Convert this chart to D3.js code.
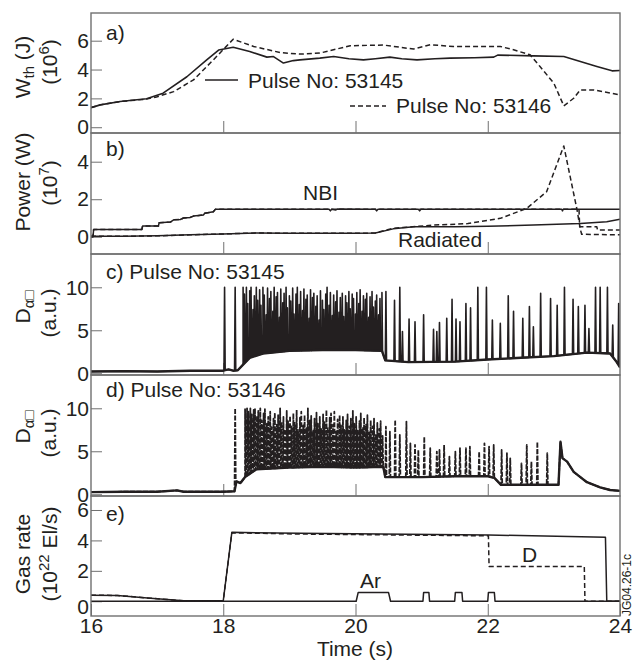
<!DOCTYPE html>
<html>
<head>
<meta charset="utf-8">
<script src="https://cdn.jsdelivr.net/npm/d3@7"></script>
<style>
  body { margin: 0; background: #fff; }
  text { font-family: "Liberation Sans", Arial, sans-serif; fill: #231f20; }
</style>
</head>
<body>
<div id="chart"></div>
<script>
// ---- data (time in s) ----
const xTicks = [16, 18, 20, 22, 24];
const wthTicks = [0, 2, 4, 6];
const powerTicks = [0, 2, 4];
const dalphaTicks = [0, 5, 10];
const gasTicks = [0, 2, 4, 6];

// a) stored energy, 10^6 J
const wth53145 = [[16.0,1.36],[16.14,1.55],[16.44,1.78],[16.84,1.97],[17.09,2.36],[17.45,3.5],[17.75,4.67],[17.93,5.35],
  [18.15,5.55],[18.4,5.25],[18.66,4.86],[18.76,4.9],[18.91,4.45],[19.06,4.62],[19.16,4.67],[19.46,4.79],[19.67,4.9],
  [19.9,4.75],[20.12,4.67],[20.3,4.75],[20.52,4.86],[20.7,4.75],[20.93,4.67],[21.2,4.75],[21.43,4.79],[21.8,4.82],
  [22.09,4.86],[22.15,5.0],[22.69,4.95],[23.15,4.9],[23.4,4.56],[23.65,4.21],[23.88,3.91],[24.0,3.93]];
const wth53146 = [[16.0,1.36],[16.14,1.55],[16.44,1.78],[16.84,1.95],[16.99,2.1],[17.25,2.47],[17.55,3.28],[17.85,4.67],
  [18.15,6.1],[18.46,5.6],[18.86,5.18],[19.16,5.07],[19.46,5.14],[19.92,5.65],[20.42,5.7],[20.88,5.42],[21.13,5.72],
  [21.48,5.6],[22.19,5.6],[22.39,5.37],[22.64,5.02],[22.79,4.21],[23.0,3.05],[23.15,1.48],[23.3,2.01],[23.4,2.59],
  [23.6,2.59],[24.0,2.24]];

// b) power, 10^7 W
const nbi53145 = [[16.0,0.0],[16.03,0.0],[16.04,0.39],[16.77,0.39],[16.78,0.57],[17.02,0.57],[17.03,0.75],[17.2,0.78],
  [17.25,0.9],[17.35,0.92],[17.4,1.0],[17.5,1.03],[17.55,1.1],[17.7,1.16],[17.72,1.25],[17.85,1.33],[17.88,1.46],
  [19.6,1.46],[19.62,1.38],[19.64,1.46],[19.7,1.42],[19.72,1.48],[20.3,1.46],[20.32,1.38],[20.34,1.46],[20.95,1.46],
  [20.97,1.38],[20.99,1.46],[23.12,1.46],[23.13,1.38],[23.14,1.46],[24.0,1.46]];
const nbi53146 = [[16.0,0.0],[16.03,0.0],[16.04,0.39],[16.77,0.39],[16.78,0.57],[17.02,0.57],[17.03,0.75],[17.2,0.78],
  [17.25,0.9],[17.35,0.92],[17.4,1.0],[17.5,1.03],[17.55,1.1],[17.7,1.16],[17.72,1.25],[17.85,1.33],[17.88,1.46],
  [23.38,1.46],[23.39,0.53],[23.65,0.53],[23.66,0.36],[24.0,0.36]];
const rad53145 = [[16.0,0.02],[16.5,0.02],[17.0,0.05],[17.5,0.1],[18.0,0.15],[18.5,0.2],[19.0,0.18],[20.0,0.18],
  [20.3,0.2],[20.57,0.42],[20.88,0.53],[21.5,0.53],[22.0,0.56],[22.69,0.62],[23.4,0.71],[23.8,0.8],[24.0,0.93]];
const rad53146 = [[16.0,0.02],[16.5,0.02],[17.0,0.05],[17.5,0.1],[18.0,0.15],[18.5,0.2],[19.0,0.18],[20.0,0.18],
  [20.3,0.2],[20.57,0.45],[21.18,0.62],[21.7,0.7],[22.19,0.98],[22.59,1.51],[22.89,2.4],[23.15,4.84],[23.35,1.44],
  [23.4,0.4],[23.42,0.13],[24.0,0.1]];

// c) D-alpha, pulse 53145 (trace level + ELM spikes)
const dalphaBase53145 = [[16.0,0.2],[16.5,0.25],[17.0,0.2],[17.5,0.3],[18.0,0.3],[18.08,0.45],[18.15,0.3],[18.22,0.35],
  [18.3,1.0],[18.4,1.8],[18.6,2.3],[19.0,2.6],[19.5,2.7],[20.0,2.7],[20.4,2.6],[20.45,1.5],[20.8,1.3],[21.5,1.35],
  [22.0,1.6],[22.5,1.8],[23.0,2.0],[23.5,2.4],[23.85,2.3],[23.95,1.3],[24.0,0.7]];
const dalphaSpikes53145 = [[18.02,10],[18.18,10],
  [18.30,10],[18.32,9.2],[18.35,10],[18.37,8.1],[18.40,9.6],[18.42,10],[18.45,7.4],[18.47,9.0],[18.50,10],[18.52,8.5],
  [18.55,9.7],[18.57,7.9],[18.60,10],[18.62,9.1],[18.65,6.8],[18.67,9.9],[18.70,8.7],[18.72,9.5],[18.75,7.2],[18.77,10],
  [18.80,8.9],[18.82,9.4],[18.85,6.5],[18.87,9.8],[18.90,8.2],[18.92,9.3],[18.95,10],[18.97,7.6],[19.00,9.0],[19.02,8.4],
  [19.05,9.9],[19.07,6.9],[19.10,9.2],[19.12,10],[19.15,8.0],[19.17,9.5],[19.20,7.3],[19.22,9.8],[19.25,8.6],[19.27,9.1],
  [19.30,6.4],[19.32,9.7],[19.35,8.8],[19.37,9.3],[19.40,7.8],[19.42,9.0],[19.45,6.2],[19.47,9.6],[19.50,8.5],[19.52,7.4],
  [19.55,9.2],[19.57,10],[19.60,7.9],[19.62,9.4],[19.65,6.7],[19.67,9.1],[19.70,8.3],[19.72,9.6],[19.75,7.1],[19.77,8.8],
  [19.80,9.3],[19.82,6.6],[19.85,9.0],[19.87,8.2],[19.90,9.5],[19.92,7.5],[19.95,9.2],[19.97,8.7],[20.00,6.9],[20.02,9.4],
  [20.05,8.1],[20.07,9.7],[20.10,7.2],[20.12,9.0],[20.15,8.6],[20.17,9.3],[20.20,6.5],[20.22,8.9],[20.25,9.5],[20.27,7.7],
  [20.30,8.4],[20.32,9.1],[20.35,6.8],[20.37,8.7],[20.40,9.4],
  [20.46,9.5],[20.59,8.5],[20.67,10],[20.71,4.85],[20.81,6.3],[20.90,6.0],[21.03,6.8],[21.18,5.1],[21.23,4.85],[21.27,5.9],
  [21.38,6.4],[21.46,8.6],[21.52,6.3],[21.58,6.0],[21.67,8.1],[21.74,7.6],[21.85,10],[21.98,10],[22.07,6.2],[22.19,5.8],
  [22.31,9.0],[22.39,7.2],[22.53,6.4],[22.63,7.75],[22.69,5.4],[22.80,9.3],[22.95,8.7],[23.05,7.9],[23.16,10],[23.29,8.6],
  [23.37,7.75],[23.47,7.9],[23.53,5.2],[23.63,10],[23.70,10],[23.81,10],[23.89,5.6],[23.98,8.1]];

// d) D-alpha, pulse 53146
const dalphaBase53146 = [[16.0,0.25],[16.5,0.3],[17.0,0.3],[17.3,0.45],[17.4,0.3],[18.0,0.3],[18.17,0.35],[18.2,1.5],
  [18.26,1.3],[18.33,2.0],[18.5,2.9],[19.0,3.1],[19.5,3.2],[20.0,3.1],[20.42,3.2],[20.45,2.0],[21.0,2.0],[21.5,2.1],
  [22.0,2.1],[22.1,1.9],[22.2,1.1],[23.07,1.1],[23.1,6.1],[23.13,4.2],[23.2,3.8],[23.3,2.6],[23.4,2.0],[23.5,1.4],
  [23.7,0.8],[23.85,0.5],[24.0,0.4]];
const dalphaSpikes53146 = [[18.18,10],
  [18.33,9.9],[18.36,10],[18.38,9.6],[18.41,10],[18.43,9.3],[18.46,9.8],[18.48,10],[18.51,9.1],[18.53,9.7],[18.56,10],
  [18.58,8.6],[18.61,9.4],[18.63,9.9],[18.66,8.2],[18.68,9.0],[18.71,9.6],[18.73,7.8],[18.76,8.8],[18.78,9.5],[18.81,8.1],
  [18.83,9.2],[18.86,10],[18.88,8.4],[18.91,9.0],[18.93,7.6],[18.96,9.7],[18.98,8.5],[19.01,9.1],[19.03,7.9],[19.06,9.4],
  [19.08,8.3],[19.11,9.8],[19.13,7.5],[19.16,8.9],[19.18,9.6],[19.21,8.0],[19.23,9.2],[19.26,7.7],[19.28,10],[19.31,8.6],
  [19.33,9.1],[19.36,7.4],[19.38,8.8],[19.41,9.5],[19.43,8.2],[19.46,9.0],[19.48,7.6],[19.51,9.3],[19.53,8.4],[19.56,9.8],
  [19.58,7.8],[19.61,8.9],[19.63,9.4],[19.66,8.1],[19.68,9.6],[19.71,7.3],[19.73,8.7],[19.76,9.2],[19.78,8.0],[19.81,9.0],
  [19.83,7.5],[19.86,8.6],[19.88,9.3],[19.91,7.9],[19.93,8.8],[19.96,9.7],[19.98,8.2],[20.01,9.0],[20.03,7.4],[20.06,8.5],
  [20.08,9.4],[20.11,7.7],[20.13,8.9],[20.16,8.1],[20.18,9.2],[20.21,7.2],[20.23,8.6],[20.26,7.9],[20.28,8.8],[20.31,7.0],
  [20.33,8.3],[20.36,7.6],[20.38,8.5],[20.41,6.8],
  [20.46,7.86],[20.52,7.28],[20.60,8.64],[20.67,6.9],[20.77,8.45],[20.83,5.93],[20.90,5.73],[20.95,5.15],[21.04,6.7],
  [21.13,5.35],[21.23,4.96],[21.27,5.15],[21.34,5.73],[21.42,4.38],[21.51,4.96],[21.58,5.35],[21.67,5.35],[21.73,5.54],
  [21.87,4.96],[21.95,5.93],[22.02,5.54],[22.09,5.73],[22.21,5.15],[22.29,4.77],[22.34,4.18],[22.51,3.6],[22.59,5.73],
  [22.66,3.8],[22.75,6.1],[22.90,4.77]];

// e) gas rates, 10^22 el/s
const gasD53145 = [[16.0,0.4],[16.4,0.38],[16.9,0.2],[17.4,0.03],[18.0,0.03],[18.13,4.53],[19.16,4.47],[22.01,4.36],
  [23.78,4.2],[23.8,0.0],[24.0,0.0]];
const gasD53146 = [[16.0,0.4],[16.4,0.38],[16.9,0.2],[17.4,0.03],[18.0,0.03],[18.13,4.5],[19.16,4.42],[22.01,4.3],
  [22.02,2.28],[23.46,2.28],[23.47,0.0],[24.0,0.0]];
const gasAr = [[16.0,0.0],[20.01,0.0],[20.04,0.57],[20.5,0.57],[20.53,0.0],[21.02,0.0],[21.03,0.57],[21.11,0.57],
  [21.12,0.0],[21.5,0.0],[21.51,0.57],[21.61,0.57],[21.62,0.0],[22.0,0.0],[22.01,0.57],[22.1,0.57],[22.11,0.0],[24.0,0.0]];

// ---- layout ----
const width = 633, height = 666;
const left = 91, right = 620;
const ink = "#231f20", frame = "#707070";
const font = '"Liberation Sans", Arial, sans-serif';

const svg = d3.select("#chart").append("svg")
    .attr("width", width)
    .attr("height", height);
svg.append("rect").attr("width", width).attr("height", height).attr("fill", "#fff");

const x = d3.scaleLinear().domain([16, 24]).range([left, right]);

const panels = [
  {key: "a", top: 13,  bottom: 133, domain: [-0.4, 7.92],  ticks: wthTicks},
  {key: "b", top: 133, bottom: 254, domain: [-0.92, 5.53], ticks: powerTicks},
  {key: "c", top: 254, bottom: 375, domain: [-0.2, 13.87], ticks: dalphaTicks},
  {key: "d", top: 375, bottom: 496, domain: [-0.2, 13.87], ticks: dalphaTicks},
  {key: "e", top: 496, bottom: 616, domain: [-0.97, 6.92], ticks: gasTicks}
];

const defs = svg.append("defs");
const y = {}, layer = {};

panels.forEach((p, i) => {
  y[p.key] = d3.scaleLinear().domain(p.domain).range([p.bottom, p.top]);

  defs.append("clipPath").attr("id", "clip-" + p.key)
    .append("rect").attr("x", left).attr("y", p.top)
    .attr("width", right - left).attr("height", p.bottom - p.top);

  // Y axis, inward ticks
  const ya = svg.append("g")
      .attr("transform", `translate(${left},0)`)
      .call(d3.axisLeft(y[p.key]).tickValues(p.ticks).tickFormat(d3.format("d"))
        .tickSize(-11).tickPadding(2));
  ya.select(".domain").remove();
  ya.selectAll("line").attr("stroke", frame).attr("stroke-width", 1);
  ya.selectAll("text").attr("font-size", 21).attr("fill", ink).attr("font-family", font);

  // X axis ticks on the bottom of every panel
  const last = i === panels.length - 1;
  const xa = svg.append("g")
      .attr("transform", `translate(0,${p.bottom})`)
      .call(d3.axisBottom(x).tickValues(last ? xTicks : [18, 20, 22])
        .tickSize(-12).tickPadding(2)
        .tickFormat(last ? d3.format("d") : ""));
  xa.select(".domain").remove();
  xa.selectAll("line").attr("stroke", frame).attr("stroke-width", 1);
  xa.selectAll("text").attr("font-size", 21).attr("fill", ink).attr("font-family", font);

  if (p.key === "e") {
    ya.selectAll(".tick").filter(d => d === 0).select("text").attr("y", 6);
  }

  layer[p.key] = svg.append("g").attr("clip-path", `url(#clip-${p.key})`);
});

// frames
panels.forEach(p => {
  svg.append("rect")
    .attr("x", left).attr("y", p.top)
    .attr("width", right - left).attr("height", p.bottom - p.top)
    .attr("fill", "none").attr("stroke", frame).attr("stroke-width", 1.4);
});

function draw(key, data, opts) {
  const line = d3.line().x(d => x(d[0])).y(d => y[key](d[1]));
  layer[key].append("path")
    .datum(data)
    .attr("d", line)
    .attr("fill", "none")
    .attr("stroke", ink)
    .attr("stroke-width", opts.w || 1.5)
    .attr("stroke-linejoin", "round")
    .attr("stroke-dasharray", opts.dash || null);
}

// trace level plus narrow ELM spikes rising from it
function withSpikes(base, spikes) {
  const level = d3.scaleLinear().domain(base.map(d => d[0])).range(base.map(d => d[1]));
  const dt = 0.009;
  const pts = base.slice();
  spikes.forEach(([t, h]) => {
    pts.push([t - dt, level(t - dt)], [t, h], [t + dt, level(t + dt)]);
  });
  return pts.sort((a, b) => a[0] - b[0]);
}

// a)
draw("a", wth53145, {w: 1.6});
draw("a", wth53146, {w: 1.5, dash: "5,3"});
// b)
draw("b", nbi53145, {w: 1.5});
draw("b", nbi53146, {w: 1.5, dash: "5,3"});
draw("b", rad53145, {w: 1.5});
draw("b", rad53146, {w: 1.5, dash: "5,3"});
// c)
draw("c", withSpikes(dalphaBase53145, dalphaSpikes53145), {w: 1.6});
draw("c", dalphaBase53145, {w: 2.4});
// d)
draw("d", dalphaBase53146, {w: 2.4});
draw("d", withSpikes(dalphaBase53146, dalphaSpikes53146), {w: 1.8, dash: "5,1.5"});
// e)
draw("e", gasAr, {w: 1.5});
draw("e", gasD53145, {w: 1.5});
draw("e", gasD53146, {w: 1.5, dash: "5,3"});

// ---- text ----
function label(txt, px, py, size) {
  return svg.append("text").attr("x", px).attr("y", py)
    .attr("font-size", size || 21).text(txt);
}
label("a)", 106, 40);
label("b)", 106, 156);
label("c) Pulse No: 53145", 106, 279);
label("d) Pulse No: 53146", 106, 397);
label("e)", 106, 521);
label("NBI", 303, 200);
label("Radiated", 398, 247);
label("Ar", 360, 588);
label("D", 522, 562);

// legend in a)
svg.append("line").attr("x1", 205).attr("x2", 238).attr("y1", 80).attr("y2", 80)
  .attr("stroke", ink).attr("stroke-width", 1.6);
label("Pulse No: 53145", 248, 88);
svg.append("line").attr("x1", 350).attr("x2", 386).attr("y1", 106).attr("y2", 106)
  .attr("stroke", ink).attr("stroke-width", 1.5).attr("stroke-dasharray", "5,3");
label("Pulse No: 53146", 396, 113);

// x title
svg.append("text").attr("x", 355).attr("y", 656).attr("text-anchor", "middle")
  .attr("font-size", 21).text("Time (s)");

// figure id on the right
svg.append("text").attr("transform", "translate(631,585) rotate(-90)")
  .attr("text-anchor", "middle").attr("font-size", 12).text("JG04.26-1c");

// y titles: two rotated lines each
function ytitle(parts, bx, cy) {
  const t = svg.append("text")
    .attr("transform", `translate(${bx},${cy}) rotate(-90)`)
    .attr("text-anchor", "middle").attr("font-size", 21);
  parts.forEach(pt => {
    const s = t.append("tspan").text(pt.t);
    if (pt.sub) s.attr("font-size", 15).attr("dy", 4);
    if (pt.sup) s.attr("font-size", 15).attr("dy", -8);
    if (pt.back) s.attr("dy", pt.back);
  });
}
ytitle([{t: "W"}, {t: "th", sub: 1}, {t: " (J)", back: -4}], 30, 67);
ytitle([{t: "(10"}, {t: "6", sup: 1}, {t: ")", back: 8}], 57, 62);
ytitle([{t: "Power (W)"}], 30, 182);
ytitle([{t: "(10"}, {t: "7", sup: 1}, {t: ")", back: 8}], 57, 183);
ytitle([{t: "D"}, {t: "α□", sub: 1}], 30, 307);
ytitle([{t: "(a.u.)"}], 56, 313);
ytitle([{t: "D"}, {t: "α□", sub: 1}], 30, 427);
ytitle([{t: "(a.u.)"}], 56, 433);
ytitle([{t: "Gas rate"}], 30, 554);
ytitle([{t: "(10"}, {t: "22", sup: 1}, {t: " El/s)", back: 8}], 57, 554);
</script>
</body>
</html>
